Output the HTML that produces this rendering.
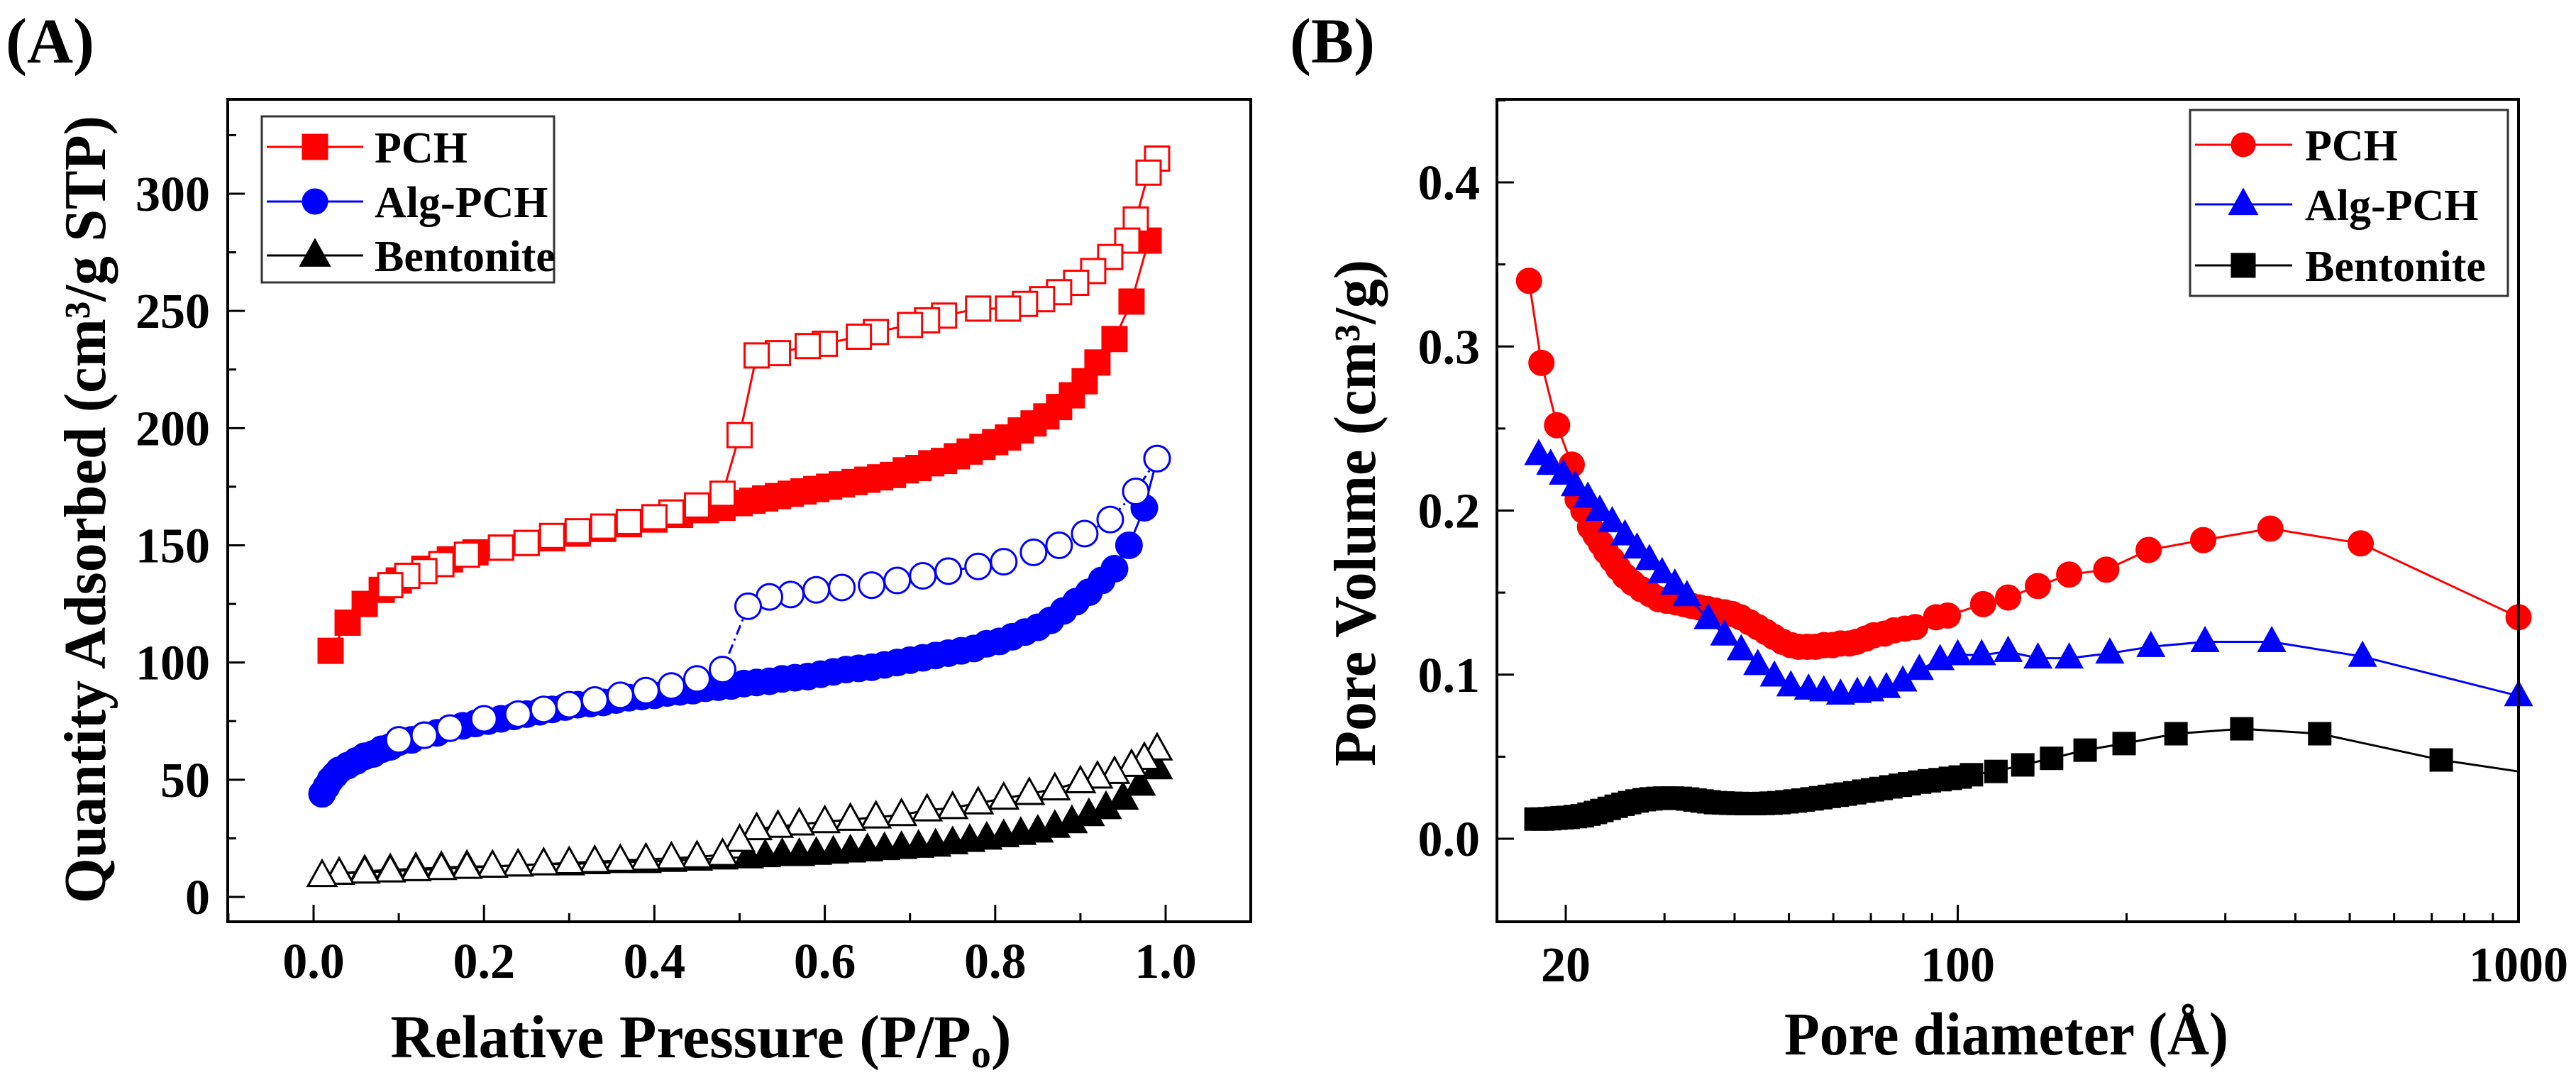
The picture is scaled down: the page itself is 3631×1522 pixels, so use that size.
<!DOCTYPE html>
<html><head><meta charset="utf-8">
<style>
html,body{margin:0;padding:0;background:#fff;}
svg{display:block;}
text{font-family:"Liberation Serif",serif;font-weight:bold;fill:#000;}
</style></head>
<body>
<svg id="fig" width="3631" height="1522" viewBox="0 0 3631 1522" xmlns="http://www.w3.org/2000/svg">
<g id="panelA"></g>
<g id="panelB"></g>
</svg>
<script>
// ---------- Panel A data ----------
const aXTicks = [0.0, 0.2, 0.4, 0.6, 0.8, 1.0];
const aXTickLabels = ["0.0", "0.2", "0.4", "0.6", "0.8", "1.0"];
const aYTicks = [0, 50, 100, 150, 200, 250, 300];
const aYTickLabels = ["0", "50", "100", "150", "200", "250", "300"];

const pchAdsX = [0.02,0.04,0.06,0.08,0.1,0.13,0.16,0.19,0.22,0.25,0.28,0.31,0.34,0.37,0.4,0.43,0.46,0.48,0.5,0.515,0.53,0.545,0.56,0.575,0.59,0.605,0.62,0.635,0.65,0.665,0.68,0.695,0.71,0.725,0.74,0.755,0.77,0.785,0.8,0.815,0.83,0.845,0.86,0.875,0.89,0.905,0.92,0.94,0.96,0.98];
const pchAdsY = [105,117,125,131,135,140,144,147,149,151,153,155,157,159,161,163,165,166,168,169,170,171,172,173,174,175,176,177,178,179,180,182,183,185,186,188,190,192,194,196,199,202,205,209,214,220,228,238,254,280];
const pchDesX = [0.99,0.98,0.965,0.955,0.935,0.915,0.895,0.875,0.855,0.835,0.815,0.78,0.74,0.72,0.70,0.66,0.64,0.6,0.58,0.545,0.52,0.5,0.48,0.45,0.42,0.4,0.37,0.34,0.31,0.28,0.25,0.22,0.18,0.15,0.13,0.11,0.09];
const pchDesY = [315,309,289,280,273,267,262,258,255,253,251,251,248,246,244,241,239,236,235,232,231,197,172,167,164,162,160,158,156,154,151,149,146,142,139,137,133];

const algAdsX = [0.01,0.015,0.02,0.025,0.03,0.04,0.05,0.06,0.07,0.08,0.09,0.1,0.115,0.13,0.145,0.16,0.175,0.19,0.205,0.22,0.235,0.25,0.265,0.28,0.295,0.31,0.325,0.34,0.355,0.37,0.385,0.4,0.415,0.43,0.445,0.46,0.475,0.49,0.505,0.52,0.535,0.55,0.565,0.58,0.595,0.61,0.625,0.64,0.655,0.67,0.685,0.7,0.715,0.73,0.745,0.76,0.775,0.79,0.805,0.82,0.835,0.85,0.865,0.88,0.895,0.91,0.925,0.94,0.957,0.975,0.99];
const algAdsY = [44,47,50,52,54,56,58,60,61,63,64,66,67,69,70,72,73,74,75,76,77,78,79,80,81,82,82.5,83,84,85,85.5,86,87,87.5,88,89,89.5,90,91,91.5,92,93,93.5,94,95,96,97,97.5,98,99,100,101,102,103,104,105,106,108,109,111,113,115,118,122,126,130,135,140,150,166,187];
const algDesX = [0.99,0.965,0.935,0.905,0.875,0.845,0.81,0.78,0.745,0.715,0.685,0.655,0.62,0.59,0.56,0.535,0.51,0.48,0.45,0.42,0.39,0.36,0.33,0.3,0.27,0.24,0.2,0.16,0.13,0.1];
const algDesY = [187,173,161,155,150,147,143,141,139,137,135,133,132,131,129,128,124,97,93,90,88,86,84,82,80,78,76,72,69,67];

const benAdsX = [0.03,0.06,0.09,0.12,0.15,0.18,0.21,0.24,0.27,0.3,0.33,0.36,0.39,0.42,0.45,0.48,0.51,0.53,0.55,0.57,0.59,0.61,0.63,0.65,0.67,0.69,0.71,0.73,0.75,0.77,0.79,0.81,0.83,0.85,0.87,0.89,0.91,0.93,0.95,0.97,0.99];
const benAdsY = [10,11,11.5,12,12.5,13,13,13.5,14,14,14.5,15,15,15.5,16,16.5,17,17.5,18,18,18.5,19,19.5,20,20.5,21,21.5,22,23,24,25,26,27,28,30,32,35,38,42,48,55];
const benDesX = [0.99,0.975,0.96,0.94,0.92,0.9,0.87,0.84,0.81,0.78,0.75,0.72,0.69,0.66,0.63,0.6,0.57,0.545,0.52,0.5,0.48,0.45,0.42,0.39,0.36,0.33,0.3,0.27,0.24,0.21,0.18,0.15,0.12,0.09,0.06,0.03,0.01];
const benDesY = [63,59,56,53,51,49,46,44,42,40,38,37,35,34,33,32,31,30,29,24,18,17,16.5,16,15.5,15,14.5,14,13.5,13,12.5,12,11.5,11,10.5,10,9];

// ---------- Panel B data ----------
const bXTicks = [20, 100, 1000];
const bXTickLabels = ["20", "100", "1000"];
const bXMinor = [30,40,50,60,70,80,90,200,300,400,500,600,700,800,900];
const bYTicks = [0.0, 0.1, 0.2, 0.3, 0.4];
const bYTickLabels = ["0.0", "0.1", "0.2", "0.3", "0.4"];

const bPchX = [17.2,18.1,19.3,20.5,21,21.5,22.1,22.6,23.1,23.6,24.2,24.8,25.5,26.3,27.3,28.3,29.3,30.3,31.5,32.5,33.5,34.6,35.8,37,38.4,39.6,41,42.5,44,45.5,47,48.7,50.4,52,54,55.8,57.7,59.8,61.8,64,66,68.5,70.8,74,77,80.5,84,91.5,96,111,123,139,158,184,219,274,361,523,1000];
const bPchY = [0.34,0.29,0.252,0.228,0.207,0.2,0.19,0.185,0.18,0.175,0.17,0.165,0.16,0.156,0.152,0.149,0.146,0.145,0.144,0.143,0.142,0.141,0.14,0.139,0.138,0.137,0.135,0.132,0.129,0.126,0.123,0.12,0.118,0.117,0.117,0.117,0.118,0.118,0.119,0.119,0.12,0.122,0.124,0.125,0.127,0.128,0.129,0.135,0.136,0.143,0.147,0.154,0.161,0.164,0.176,0.182,0.189,0.18,0.135];
const bAlgX = [17.9,18.8,19.8,20.8,21.9,23,24.2,25.5,26.8,28.2,29.7,31.3,32.9,35.9,38.4,41.1,44,47.1,50.4,54.2,57.7,61.8,66.2,69.7,74.6,79.8,85.4,93,100,110.3,123,139,158,186.7,221,276,363,527,1000];
const bAlgY = [0.234,0.228,0.222,0.215,0.208,0.2,0.193,0.185,0.177,0.17,0.162,0.155,0.148,0.134,0.124,0.115,0.106,0.099,0.093,0.091,0.09,0.088,0.089,0.09,0.092,0.096,0.103,0.109,0.112,0.112,0.114,0.11,0.11,0.113,0.117,0.12,0.12,0.111,0.087];
const bBenX = [17.7,18.2,18.7,19.2,19.7,20.2,20.8,21.4,22,22.6,23.2,23.9,24.6,25.3,26,26.8,27.6,28.4,29.2,30,31,32,33,34,35,36,37,38.2,39.4,40.6,42,43.4,45,46.5,48,49.6,51.3,53,55,57,59,61,63,65.5,68,70.5,73,76,79,82,85.5,89,93,97,101,105.8,117,130.6,147,168.7,198,245,321,442,728,1000];
const bBenY = [0.012,0.012,0.0122,0.0125,0.0128,0.013,0.0135,0.014,0.015,0.016,0.0172,0.0185,0.0198,0.021,0.022,0.023,0.0238,0.0243,0.0246,0.0248,0.0248,0.0246,0.0242,0.0236,0.023,0.0225,0.022,0.0218,0.0216,0.0215,0.0214,0.0214,0.0215,0.0217,0.022,0.0225,0.023,0.0236,0.0243,0.025,0.0258,0.0265,0.0272,0.028,0.029,0.0298,0.0306,0.0316,0.0326,0.0335,0.0345,0.0353,0.036,0.0368,0.0376,0.039,0.041,0.045,0.049,0.054,0.058,0.064,0.067,0.064,0.048,0.041];

const NS = "http://www.w3.org/2000/svg";
function mk(parent, tag, attrs) {
  const el = document.createElementNS(NS, tag);
  for (const k in attrs) el.setAttribute(k, attrs[k]);
  parent.appendChild(el);
  return el;
}

// ---------- axis functions ----------
const A = {l:321, r:1763, t:140, b:1299};
const ax = v => 442 + (v - 0) * (1643 - 442);
const ay = v => 1264 - v * (1264 - 273) / 300;
const B = {l:2110, r:3550, t:140, b:1299};
const bx = v => 2207 + (Math.log10(v) - Math.log10(20)) * 790.5;
const by = v => 1182 - v * 2312.5;

function marker(g, shape, x, y, s, fill, stroke) {
  let el;
  if (shape === 'square') {
    el = mk(g, 'rect', {x: x - s/2, y: y - s/2, width: s, height: s, fill: fill, stroke: stroke, 'stroke-width': 3});
  } else if (shape === 'circle') {
    el = mk(g, 'circle', {cx: x, cy: y, r: s/2, fill: fill, stroke: stroke, 'stroke-width': 3});
  } else {
    const h = s * 0.9;
    el = mk(g, 'polygon', {points: `${x},${y - h*0.6} ${x - s/2},${y + h*0.4} ${x + s/2},${y + h*0.4}`, fill: fill, stroke: stroke, 'stroke-width': 3});
  }
  return el;
}

function series(panel, name, xs, ys, fx, fy, color, shape, size, open, dash, skipLastMarker) {
  const g = mk(panel, 'g', {});
  
  
  const pts = xs.map((x, i) => fx(x).toFixed(1) + ',' + fy(ys[i]).toFixed(1)).join(' ');
  const line = mk(g, 'polyline', {points: pts, fill: 'none', stroke: color, 'stroke-width': 3});
  if (dash) line.setAttribute('stroke-dasharray', dash);
  
  
  xs.forEach((x, i) => {
    if (skipLastMarker && i === xs.length - 1) return;
    const m = marker(g, shape, fx(x), fy(ys[i]), size, open ? '#fff' : color, color);
    
    
  });
}

function frame(panel, F) {
  const f = mk(panel, 'rect', {x: F.l, y: F.t, width: F.r - F.l, height: F.b - F.t, fill: 'none', stroke: '#000', 'stroke-width': 4});
  
  
}

function text(panel, name, x, y, str, size, anchor, extra) {
  const t = mk(panel, 'text', Object.assign({x: x, y: y, 'font-size': size, 'text-anchor': anchor || 'middle'}, extra || {}));
  t.textContent = str;
  
  
  return t;
}

// ---------- Panel A ----------
const pA = document.getElementById('panelA');
series(pA, 'pch-adsorption', pchAdsX, pchAdsY, ax, ay, '#ff0000', 'square', 34, false);
series(pA, 'alg-pch-adsorption', algAdsX, algAdsY, ax, ay, '#0000ff', 'circle', 36, false);
series(pA, 'bentonite-adsorption', benAdsX, benAdsY, ax, ay, '#000', 'triangle', 40, false);
series(pA, 'pch-desorption', pchDesX, pchDesY, ax, ay, '#ff0000', 'square', 34, true);
series(pA, 'alg-pch-desorption', algDesX, algDesY, ax, ay, '#0000ff', 'circle', 36, true, '14,6,3,6');
series(pA, 'bentonite-desorption', benDesX, benDesY, ax, ay, '#000', 'triangle', 40, true);
frame(pA, A);
aXTicks.forEach((v, i) => {
  mk(pA, 'line', {x1: ax(v), x2: ax(v), y1: A.b, y2: A.b - 24, stroke: '#000', 'stroke-width': 3});
  if (i < aXTicks.length - 1) mk(pA, 'line', {x1: ax(v + 0.1), x2: ax(v + 0.1), y1: A.b, y2: A.b - 12, stroke: '#000', 'stroke-width': 3});
  text(pA, 'x-tick-label', ax(v), 1378, aXTickLabels[i], 70);
});
mk(pA, 'line', {x1: ax(-0.1), x2: ax(-0.1), y1: A.b, y2: A.b - 12, stroke: '#000', 'stroke-width': 3});
aYTicks.forEach((v, i) => {
  mk(pA, 'line', {x1: A.l, x2: A.l + 24, y1: ay(v), y2: ay(v), stroke: '#000', 'stroke-width': 3});
  mk(pA, 'line', {x1: A.l, x2: A.l + 12, y1: ay(v + 25), y2: ay(v + 25), stroke: '#000', 'stroke-width': 3});
  text(pA, 'y-tick-label', 296, ay(v) + 24, aYTickLabels[i], 70, 'end');
});
const axt = text(pA, 'x-axis-title', 988, 1490, 'Relative Pressure (P/P', 86, 'middle');
const sub = mk(axt, 'tspan', {'font-size': 56, dy: 14});
sub.textContent = 'o';
const axc = mk(axt, 'tspan', {dy: -14});
axc.textContent = ')';
text(pA, 'y-axis-title', 0, 0, 'Quantity Adsorbed (cm³/g STP)', 84, 'middle', {transform: 'translate(148,718) rotate(-90)', textLength: 1110, lengthAdjust: 'spacingAndGlyphs'});
text(pA, 'panel-label-a', 8, 88, '(A)', 90, 'start');
// legend A
const lgA = mk(pA, 'g', {});


mk(lgA, 'rect', {x: 369, y: 164, width: 412, height: 234, fill: '#fff', stroke: '#333', 'stroke-width': 3});
[['PCH', '#ff0000', 'square', 207], ['Alg-PCH', '#0000ff', 'circle', 284], ['Bentonite', '#000', 'triangle', 360]].forEach(e => {
  mk(lgA, 'line', {x1: 376, x2: 512, y1: e[3], y2: e[3], stroke: e[1], 'stroke-width': 3});
  marker(lgA, e[2], 444, e[3], e[2] === 'triangle' ? 40 : 34, e[1], e[1]);
  text(lgA, 'legend-entry', 528, e[3] + 22, e[0], 62, 'start');
});

// ---------- Panel B ----------
const pB = document.getElementById('panelB');
series(pB, 'bentonite-pore', bBenX, bBenY, bx, by, '#000', 'square', 30, false, null, true);
series(pB, 'pch-pore', bPchX, bPchY, bx, by, '#ff0000', 'circle', 34, false);
series(pB, 'alg-pch-pore', bAlgX, bAlgY, bx, by, '#0000ff', 'triangle', 36, false);
frame(pB, B);
bXTicks.forEach((v, i) => {
  mk(pB, 'line', {x1: bx(v), x2: bx(v), y1: B.b, y2: B.b - 24, stroke: '#000', 'stroke-width': 3});
  text(pB, 'x-tick-label', bx(v), 1383, bXTickLabels[i], 70);
});
bXMinor.forEach(v => {
  mk(pB, 'line', {x1: bx(v), x2: bx(v), y1: B.b, y2: B.b - 12, stroke: '#000', 'stroke-width': 3});
});
bYTicks.forEach((v, i) => {
  mk(pB, 'line', {x1: B.l, x2: B.l + 24, y1: by(v), y2: by(v), stroke: '#000', 'stroke-width': 3});
  mk(pB, 'line', {x1: B.l, x2: B.l + 12, y1: by(v + 0.05), y2: by(v + 0.05), stroke: '#000', 'stroke-width': 3});
  text(pB, 'y-tick-label', 2086, by(v) + 24, bYTickLabels[i], 70, 'end');
});
text(pB, 'x-axis-title', 2828, 1486, 'Pore diameter (Å)', 86, 'middle', {textLength: 626, lengthAdjust: 'spacingAndGlyphs'});
text(pB, 'y-axis-title', 0, 0, 'Pore Volume (cm³/g)', 84, 'middle', {transform: 'translate(1938,723) rotate(-90)', textLength: 714, lengthAdjust: 'spacingAndGlyphs'});
text(pB, 'panel-label-b', 1818, 88, '(B)', 90, 'start');
const lgB = mk(pB, 'g', {});


mk(lgB, 'rect', {x: 3087, y: 155, width: 448, height: 262, fill: '#fff', stroke: '#333', 'stroke-width': 3});
[['PCH', '#ff0000', 'circle', 204], ['Alg-PCH', '#0000ff', 'triangle', 288], ['Bentonite', '#000', 'square', 374]].forEach(e => {
  mk(lgB, 'line', {x1: 3094, x2: 3231, y1: e[3], y2: e[3], stroke: e[1], 'stroke-width': 3});
  marker(lgB, e[2], 3162, e[3], e[2] === 'triangle' ? 38 : 32, e[1], e[1]);
  text(lgB, 'legend-entry', 3249, e[3] + 22, e[0], 62, 'start');
});
</script>
</body></html>
